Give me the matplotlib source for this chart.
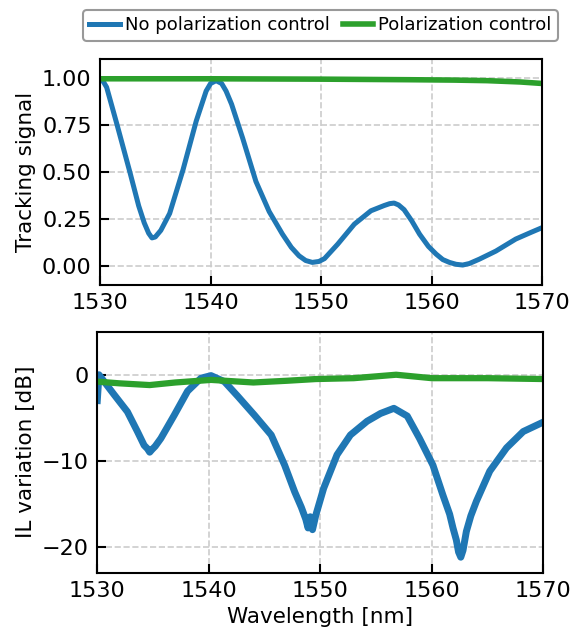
import matplotlib
matplotlib.use('Agg')
import matplotlib.pyplot as plt
import numpy as np

# top panel: tracking signal
wl_track_np = [1530.0, 1530.3, 1530.6, 1531.5, 1532.7, 1533.5, 1534.0, 1534.4, 1534.7, 1535.0,
               1535.5, 1536.3, 1537.5, 1538.7, 1539.6, 1540.0, 1540.5, 1541.0, 1541.4, 1541.9,
               1542.9, 1544.1, 1545.3, 1546.5, 1547.3, 1548.0, 1548.6, 1549.2, 1549.8, 1550.3,
               1551.5, 1553.0, 1554.5, 1555.7, 1556.2, 1556.6, 1557.0, 1557.5, 1558.2, 1558.9,
               1559.7, 1560.4, 1561.0, 1561.6, 1562.2, 1562.8, 1563.4, 1564.3, 1565.8, 1567.6,
               1569.0, 1570.0]
track_np = [0.99, 0.98, 0.95, 0.76, 0.50, 0.32, 0.23, 0.175, 0.15, 0.155,
            0.19, 0.28, 0.51, 0.77, 0.93, 0.97, 0.985, 0.97, 0.93, 0.86,
            0.68, 0.45, 0.29, 0.17, 0.10, 0.055, 0.03, 0.02, 0.025, 0.04,
            0.117, 0.223, 0.294, 0.322, 0.332, 0.335, 0.325, 0.30, 0.24, 0.17,
            0.105, 0.064, 0.035, 0.02, 0.01, 0.006, 0.014, 0.037, 0.08, 0.144,
            0.18, 0.205]

wl_track_pc = [1530, 1540, 1550, 1558, 1562, 1565, 1568, 1570]
track_pc = [0.995, 0.995, 0.993, 0.99, 0.988, 0.985, 0.978, 0.97]

# bottom panel: IL variation
wl_il_np = [1530.0, 1530.15, 1531.5, 1532.7, 1533.6, 1534.2, 1534.5, 1534.7, 1534.9, 1535.2,
            1535.7, 1536.9, 1538.1, 1539.3, 1540.2, 1541.4, 1542.6, 1544.1, 1545.6, 1546.8,
            1547.7, 1548.3, 1548.7, 1548.9, 1549.1, 1549.3, 1549.6, 1550.3, 1551.5, 1552.7,
            1554.2, 1555.4, 1556.6, 1557.8, 1558.9, 1560.1, 1561.0, 1561.6, 1561.9, 1562.2,
            1562.4, 1562.6, 1562.8, 1563.1, 1563.5, 1564.0, 1565.2, 1566.7, 1568.2, 1570.0]
il_np = [-3.0, 0.0, -2.3, -4.3, -6.6, -8.2, -8.6, -9.0, -8.7, -8.3,
         -7.4, -4.7, -1.9, -0.4, -0.1, -0.8, -2.5, -4.7, -7.0, -10.5,
         -13.6, -15.4, -16.8, -17.8, -16.5, -18.0, -16.3, -13.2, -9.3, -7.0,
         -5.4, -4.5, -3.9, -4.8, -7.4, -10.5, -14.0, -16.2, -17.8, -19.2,
         -20.6, -21.2, -20.4, -18.2, -16.4, -14.7, -11.2, -8.5, -6.6, -5.5]

wl_il_pc = [1530, 1532, 1534.7, 1537, 1540.2, 1544, 1547, 1549.6, 1553, 1556.8, 1560, 1565, 1570]
il_pc = [-0.8, -1.0, -1.2, -0.9, -0.6, -0.9, -0.7, -0.5, -0.4, 0.0, -0.4, -0.4, -0.5]

c_np = '#1f77b4'
c_pc = '#2ca02c'

fig = plt.figure(figsize=(5.72, 6.31), dpi=100)
ax1 = fig.add_axes([100/572, 1-285/631, 442.3/572, 226/631])
ax2 = fig.add_axes([97.3/572, 1-572.7/631, 446/572, 241/631])

l1, = ax1.plot(wl_track_np, track_np, color=c_np, lw=3.6, solid_joinstyle='round', label='No polarization control')
l2, = ax1.plot(wl_track_pc, track_pc, color=c_pc, lw=4, label='Polarization control')
ax1.set_ylim(-0.1, 1.1)
ax1.set_yticks([0, 0.25, 0.5, 0.75, 1.0])
ax1.set_yticklabels(['0.00', '0.25', '0.50', '0.75', '1.00'])
ax1.set_ylabel('Tracking signal', fontsize=15.5)

ax2.plot(wl_il_np, il_np, color=c_np, lw=5, solid_joinstyle='round')
ax2.plot(wl_il_pc, il_pc, color=c_pc, lw=4.5)
ax2.set_ylim(-23, 5)
ax2.set_yticks([0, -10, -20])
ax2.set_ylabel('IL variation [dB]', fontsize=15.5)
ax2.set_xlabel('Wavelength [nm]', fontsize=15.5)

for ax in (ax1, ax2):
    ax.set_xlim(1530, 1570)
    ax.set_xticks([1530, 1540, 1550, 1560, 1570])
    ax.grid(True, ls='--', color='0.8', lw=1.2)
    ax.set_axisbelow(True)
    ax.tick_params(direction='in', length=6.5, width=1.5, labelsize=16, pad=6)
    for s in ax.spines.values():
        s.set_linewidth(1.5)

leg = fig.legend(handles=[l1, l2], loc='upper center', bbox_to_anchor=(320.5/572, 1-10/631),
                 ncol=2, fontsize=13, handlelength=1.68, handletextpad=0.28, columnspacing=0.72,
                 borderpad=0.35, borderaxespad=0, fancybox=True)
leg.get_frame().set_edgecolor('0.5')
leg.get_frame().set_linewidth(1.5)

fig.savefig('out.png', dpi=100)
